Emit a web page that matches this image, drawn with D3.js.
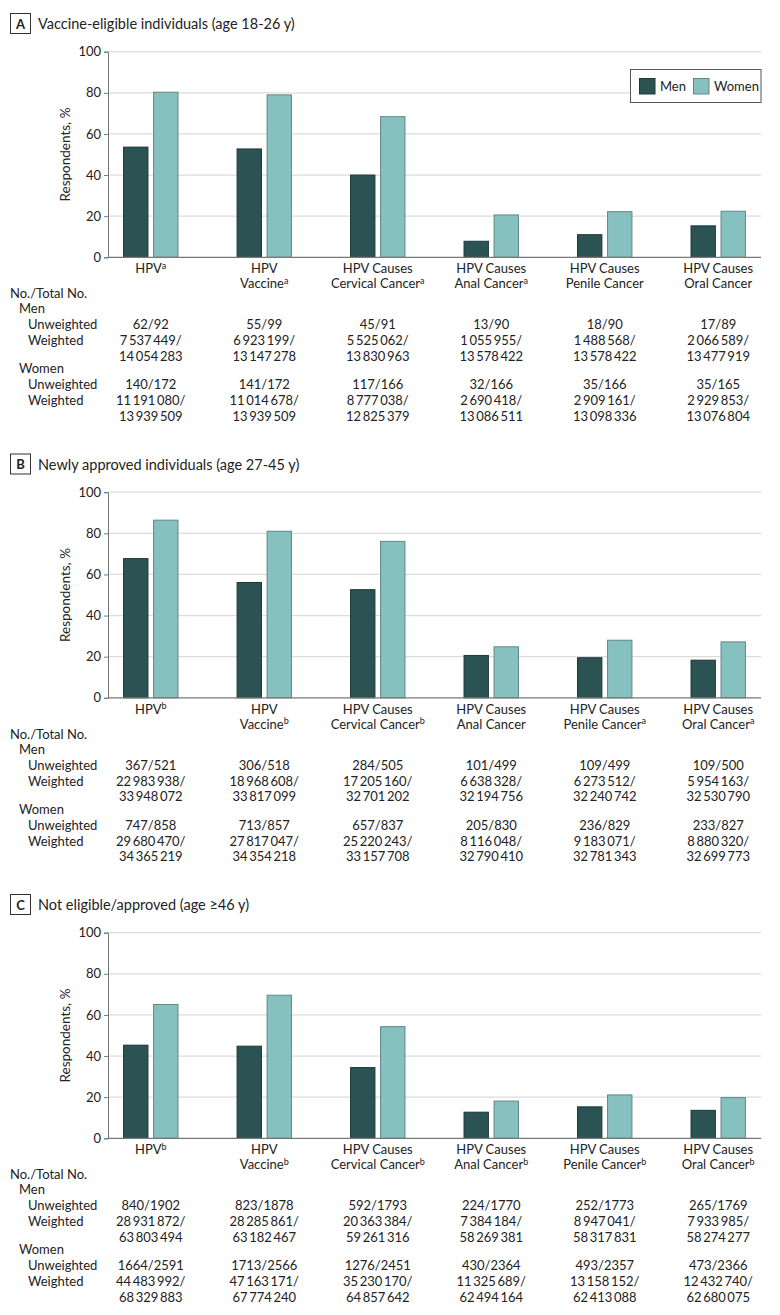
<!DOCTYPE html>
<html>
<head>
<meta charset="utf-8">
<script src="https://cdn.jsdelivr.net/npm/d3@7"></script>
<style>
  html, body { margin: 0; padding: 0; background: #fff; }
  svg { display: block; }
  text { font-family: Lato, "Open Sans", sans-serif; fill: #222; }
</style>
</head>
<body>
<div id="chart"></div>
<script>
// ---------------- DATA ----------------
const categories = [
  ["HPV"],
  ["HPV", "Vaccine"],
  ["HPV Causes", "Cervical Cancer"],
  ["HPV Causes", "Anal Cancer"],
  ["HPV Causes", "Penile Cancer"],
  ["HPV Causes", "Oral Cancer"]
];
const series = ["Men", "Women"];
const yTicks = [0, 20, 40, 60, 80, 100];

const panelLetters = ["A", "B", "C"];
const panelTitles = [
  "Vaccine-eligible individuals (age 18-26 y)",
  "Newly approved individuals (age 27-45 y)",
  "Not eligible/approved (age \u226546 y)"
];
const superscriptsA = ["a", "a", "a", "a", "", ""];
const superscriptsB = ["b", "b", "b", "", "a", "a"];
const superscriptsC = ["b", "b", "b", "b", "b", "b"];

const menA = [53.6, 52.7, 40.0, 7.8, 11.0, 15.3];
const womenA = [80.3, 79.0, 68.4, 20.6, 22.2, 22.4];
const menB = [67.7, 56.1, 52.6, 20.6, 19.5, 18.3];
const womenB = [86.4, 81.0, 76.1, 24.8, 28.0, 27.2];
const menC = [45.3, 44.8, 34.4, 12.7, 15.3, 13.6];
const womenC = [65.1, 69.6, 54.3, 18.1, 21.1, 19.8];

const menUnwA = ["62/92", "55/99", "45/91", "13/90", "18/90", "17/89"];
const menWA = ["7537449/14054283", "6923199/13147278", "5525062/13830963", "1055955/13578422", "1488568/13578422", "2066589/13477919"];
const womenUnwA = ["140/172", "141/172", "117/166", "32/166", "35/166", "35/165"];
const womenWA = ["11191080/13939509", "11014678/13939509", "8777038/12825379", "2690418/13086511", "2909161/13098336", "2929853/13076804"];

const menUnwB = ["367/521", "306/518", "284/505", "101/499", "109/499", "109/500"];
const menWB = ["22983938/33948072", "18968608/33817099", "17205160/32701202", "6638328/32194756", "6273512/32240742", "5954163/32530790"];
const womenUnwB = ["747/858", "713/857", "657/837", "205/830", "236/829", "233/827"];
const womenWB = ["29680470/34365219", "27817047/34354218", "25220243/33157708", "8116048/32790410", "9183071/32781343", "8880320/32699773"];

const menUnwC = ["840/1902", "823/1878", "592/1793", "224/1770", "252/1773", "265/1769"];
const menWC = ["28931872/63803494", "28285861/63182467", "20363384/59261316", "7384184/58269381", "8947041/58317831", "7933985/58274277"];
const womenUnwC = ["1664/2591", "1713/2566", "1276/2451", "430/2364", "493/2357", "473/2366"];
const womenWC = ["44483992/68329883", "47163171/67774240", "35230170/64857642", "11325689/62494164", "13158152/62413088", "12432740/62680075"];

// ---------------- BUILD ----------------
const panels = [
  { letter: panelLetters[0], title: panelTitles[0], sup: superscriptsA, men: menA, women: womenA, mu: menUnwA, mw: menWA, wu: womenUnwA, ww: womenWA, legend: true },
  { letter: panelLetters[1], title: panelTitles[1], sup: superscriptsB, men: menB, women: womenB, mu: menUnwB, mw: menWB, wu: womenUnwB, ww: womenWB, legend: false },
  { letter: panelLetters[2], title: panelTitles[2], sup: superscriptsC, men: menC, women: womenC, mu: menUnwC, mw: menWC, wu: womenUnwC, ww: womenWC, legend: false }
];

const W = 780, H = 1315;
const colors = { Men: "#2b5353", Women: "#86c1bf" };
const strokes = { Men: "#1c3838", Women: "#5e8887" };
const panelOffsets = [0, 440.5, 881];

const svg = d3.select("#chart").append("svg").attr("width", W).attr("height", H);

const x0 = d3.scalePoint().domain(d3.range(categories.length)).range([108, 761]).padding(0.377);
const x1 = d3.scaleBand().domain(series).range([-27.7, 27.7]).paddingInner(0.155);
const y = d3.scaleLinear().domain([0, 100]).range([257.3, 51.7]);

const fmtNum = n => d3.format(",")(+n).replace(/,/g, "\u2009");

panels.forEach((p, pi) => {
  const g = svg.append("g").attr("transform", `translate(0,${panelOffsets[pi]})`);

  // header
  g.append("rect").attr("x", 10.5).attr("y", 13.5).attr("width", 20).attr("height", 20)
    .attr("fill", "#fff").attr("stroke", "#333").attr("stroke-width", 1);
  g.append("text").attr("x", 20.5).attr("y", 28.5).attr("text-anchor", "middle")
    .style("font-size", "13px").style("font-weight", "bold").text(p.letter);
  g.append("text").attr("x", 38).attr("y", 29).style("font-size", "14.5px").text(p.title);

  // gridlines
  g.append("g").selectAll("line").data(yTicks.filter(t => t > 0)).join("line")
    .attr("x1", 108).attr("x2", 761).attr("y1", d => y(d)).attr("y2", d => y(d))
    .attr("stroke", "#dcdcdc").attr("stroke-width", 1.2);

  // y axis
  const yAxis = d3.axisLeft(y).tickValues(yTicks).tickSize(4).tickPadding(3);
  const ya = g.append("g").attr("transform", "translate(108,0)").call(yAxis);
  ya.select(".domain").attr("stroke", "#777");
  ya.selectAll(".tick line").attr("stroke", "#777");
  ya.selectAll(".tick text").style("font-size", "13px").style("font-family", "Lato, sans-serif").attr("fill", "#333");

  g.append("text").attr("transform", `translate(70,154.5) rotate(-90)`)
    .attr("text-anchor", "middle").style("font-size", "13.5px").text("Respondents, %");

  // bars
  const groups = g.append("g").selectAll("g").data(categories.map((c, i) => i)).join("g")
    .attr("transform", i => `translate(${x0(i)},0)`);
  groups.selectAll("rect").data(i => series.map(s => ({ s, v: s === "Men" ? p.men[i] : p.women[i] }))).join("rect")
    .attr("x", d => x1(d.s) + 0.5).attr("width", x1.bandwidth() - 1)
    .attr("y", d => y(d.v)).attr("height", d => y(0) - y(d.v))
    .attr("fill", d => colors[d.s]).attr("stroke", d => strokes[d.s]).attr("stroke-width", 1);

  // baseline
  g.append("line").attr("x1", 108).attr("x2", 761).attr("y1", y(0)).attr("y2", y(0))
    .attr("stroke", "#777").attr("stroke-width", 1.2);

  // category labels
  categories.forEach((lines, i) => {
    lines.forEach((ln, li) => {
      const t = g.append("text").attr("x", x0(i)).attr("y", 273 + li * 15.3)
        .attr("text-anchor", "middle").style("font-size", "13px");
      t.append("tspan").text(ln);
      if (li === lines.length - 1 && p.sup[i]) {
        t.append("tspan").attr("dy", -4.5).style("font-size", "9px").text(p.sup[i]);
      }
    });
  });

  // legend
  if (p.legend) {
    const lg = g.append("g");
    lg.append("rect").attr("x", 630.5).attr("y", 69.5).attr("width", 130.5).attr("height", 33)
      .attr("fill", "#fff").attr("stroke", "#555").attr("stroke-width", 1);
    const items = [{ s: "Men", x: 639 }, { s: "Women", x: 693 }];
    items.forEach(it => {
      lg.append("rect").attr("x", it.x + 0.5).attr("y", 78.5).attr("width", 15.5).attr("height", 15.5)
        .attr("fill", colors[it.s]).attr("stroke", strokes[it.s]);
      lg.append("text").attr("x", it.x + 21).attr("y", 91).style("font-size", "13px").text(it.s);
    });
  }

  // table
  const lbl = (txt, x, yy) => g.append("text").attr("x", x).attr("y", yy).style("font-size", "13px").text(txt);
  lbl("No./Total No.", 10, 298.3);
  lbl("Men", 19, 313.3);
  lbl("Unweighted", 28, 329);
  lbl("Weighted", 28, 345);
  lbl("Women", 19, 373.3);
  lbl("Unweighted", 28, 389.3);
  lbl("Weighted", 28, 405);

  const cell = (txt, i, yy) => g.append("text").attr("x", x0(i)).attr("y", yy)
    .attr("text-anchor", "middle").style("font-size", "13px").text(txt);
  categories.forEach((c, i) => {
    cell(p.mu[i], i, 329);
    const [mn, md] = p.mw[i].split("/");
    cell(fmtNum(mn) + "/", i, 345);
    cell(fmtNum(md), i, 360.7);
    cell(p.wu[i], i, 389.3);
    const [wn, wd] = p.ww[i].split("/");
    cell(fmtNum(wn) + "/", i, 405);
    cell(fmtNum(wd), i, 420.7);
  });
});
</script>
</body>
</html>
